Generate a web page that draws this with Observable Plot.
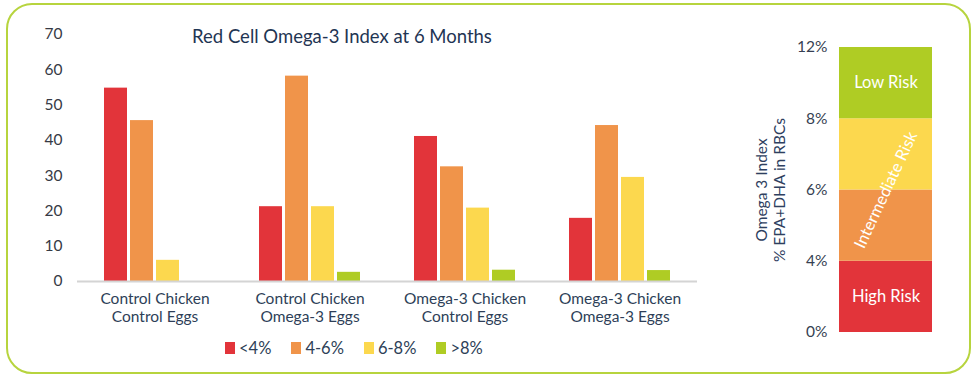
<!DOCTYPE html>
<html>
<head>
<meta charset="utf-8">
<script src="https://cdn.jsdelivr.net/npm/d3@7"></script>
<script src="https://cdn.jsdelivr.net/npm/@observablehq/plot@0.6"></script>
<style>
  html, body { margin: 0; padding: 0; background: #fff; }
  body { width: 977px; height: 381px; position: relative; overflow: hidden; font-family: Lato, "Noto Sans", sans-serif; }
  #frame { position: absolute; left: 6px; top: 3px; width: 965px; height: 371px; box-sizing: border-box;
           border: 2px solid #b7d43e; border-radius: 26px; }
  #left { position: absolute; left: 0; top: 0; }
  #right { position: absolute; left: 740px; top: 0; }
  #title { position: absolute; left: 142px; width: 400px; top: 24px; line-height: 24px; text-align: center;
           font-size: 18.5px; color: #1f3553; }
  #legend { position: absolute; left: 225px; top: 338px; display: flex; align-items: center; gap: 20px;
            font-size: 16.5px; color: #2e3f58; }
  #legend .item { display: flex; align-items: center; }
  #legend .sw { width: 10px; height: 12px; margin-right: 4px; }
  svg text { font-family: Lato, "Noto Sans", sans-serif; }
</style>
</head>
<body>
<div id="frame"></div>
<div id="left"></div>
<div id="title">Red Cell Omega-3 Index at 6 Months</div>
<div id="legend"></div>
<div id="right"></div>
<script>
// ---- data ----
const groups = [
  "Control Chicken\nControl Eggs",
  "Control Chicken\nOmega-3 Eggs",
  "Omega-3 Chicken\nControl Eggs",
  "Omega-3 Chicken\nOmega-3 Eggs"
];
const series = ["<4%", "4-6%", "6-8%", ">8%"];
const below4   = [54.8, 21.2, 41.1, 17.9];
const from4to6 = [45.6, 58.2, 32.5, 44.2];
const from6to8 = [6.0, 21.2, 20.8, 29.5];
const above8   = [0, 2.6, 3.2, 3.1];
const yTicks = [0, 10, 20, 30, 40, 50, 60, 70];

const thresholds = [0, 4, 6, 8, 12];
const riskNames = ["High Risk", "Intermediate Risk", "Low Risk"];
const riskFrom = [0, 4, 8];
const riskTo = [4, 8, 12];
const axisTitle = "Omega 3 Index\n% EPA+DHA in RBCs";

// ---- styles ----
const colors = ["#e2343a", "#f0944a", "#fcd84e", "#afcc24"];

const seriesValues = [below4, from4to6, from6to8, above8];
const data = groups.flatMap((g, gi) => series.map((s, si) => ({group: g, series: s, value: seriesValues[si][gi]})));

const left = Plot.plot({
  width: 700, height: 332,
  marginLeft: 77, marginRight: 3, marginTop: 34, marginBottom: 51,
  style: {fontSize: "15px", color: "#2e3f58", background: "transparent", overflow: "visible"},
  fx: {domain: groups, padding: 0},
  x: {domain: series, paddingInner: 0.13, paddingOuter: 0.99, axis: null},
  y: {domain: [0, 70]},
  color: {domain: series, range: colors},
  marks: [
    Plot.barY(data, {fx: "group", x: "series", y: "value", fill: "series"}),
    Plot.ruleY([0], {stroke: "#d4d4d4", strokeWidth: 2}),
    Plot.axisY({ticks: yTicks, tickSize: 0, tickPadding: 15, label: null, fill: "#363a45", fontSize: 15.5,
                fontFamily: "Liberation Sans, Arial, sans-serif"}),
    Plot.axisFx({anchor: "bottom", tickSize: 0, tickPadding: 9, label: null, lineHeight: 1.2, fill: "#2e3f58", fontSize: 15.5})
  ]
});
document.getElementById("left").appendChild(left);

// legend
const leg = document.getElementById("legend");
series.forEach((s, i) => {
  const it = document.createElement("div");
  it.className = "item";
  const sw = document.createElement("span");
  sw.className = "sw";
  sw.style.background = colors[i];
  const t = document.createElement("span");
  t.textContent = s;
  it.appendChild(sw); it.appendChild(t);
  leg.appendChild(it);
});

// ---- right risk scale ----
const idx = v => thresholds.indexOf(v);
const bands = thresholds.slice(1).map((_, i) => i);
const zones = riskNames.map((n, i) => ({label: n, from: riskFrom[i], to: riskTo[i]}));

const right = Plot.plot({
  width: 237, height: 381,
  marginLeft: 99, marginRight: 45, marginTop: 47, marginBottom: 49,
  style: {fontSize: "15px", color: "#2e3f58", background: "transparent", overflow: "visible"},
  y: {domain: [0, thresholds.length - 1]},
  color: {type: "ordinal", domain: bands, range: colors},
  marks: [
    Plot.rect(bands, {y1: d => d, y2: d => d + 1, fill: d => d}),
    Plot.axisY({ticks: thresholds.map((_, i) => i), tickFormat: i => thresholds[i] + "%",
                tickSize: 0, tickPadding: 12, label: null, fill: "#363f52", fontSize: 15.5,
                fontFamily: "Liberation Sans, Arial, sans-serif"}),
    Plot.text(zones, {
      y: d => (idx(d.from) + idx(d.to)) / 2,
      text: "label",
      fill: "white",
      fontSize: 16.5,
      rotate: d => d.label === "Intermediate Risk" ? -65 : 0
    }),
    Plot.text([axisTitle], {frameAnchor: "left", textAnchor: "middle", rotate: -90, dx: -69, lineHeight: 1.12,
                            fill: "#2e4060", fontSize: 15.5, fontFamily: "Liberation Sans, Arial, sans-serif"})
  ]
});
document.getElementById("right").appendChild(right);
</script>
</body>
</html>
